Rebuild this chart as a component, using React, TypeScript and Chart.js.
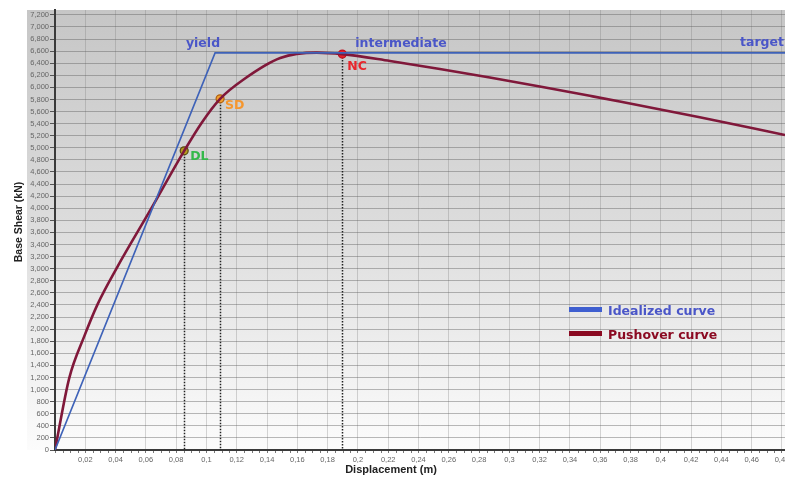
import React, { useEffect, useRef } from 'react';
import { Chart, registerables } from 'chart.js';

Chart.register(...registerables);

// ---- data ----
const idealX = [0, 0.1057, 0.482];
const idealY = [0, 6570, 6570];

const pushX = [0, 0.0094, 0.0193, 0.0281, 0.0412, 0.0632, 0.0853, 0.097, 0.109, 0.1245, 0.1487, 0.1728, 0.1897, 0.2212, 0.2541, 0.2871, 0.3201, 0.3531, 0.3729, 0.4257, 0.482];
const pushY = [0, 1190, 1880, 2410, 3030, 3980, 4950, 5420, 5810, 6130, 6485, 6575, 6550, 6436, 6304, 6163, 6014, 5860, 5766, 5505, 5212];

const limitNames = ['DL', 'SD', 'NC'];
const limitX = [0.0853, 0.109, 0.1897];
const limitY = [4950, 5810, 6550];

const xTicks = [0, 0.02, 0.04, 0.06, 0.08, 0.1, 0.12, 0.14, 0.16, 0.18, 0.2, 0.22, 0.24, 0.26, 0.28, 0.3, 0.32, 0.34, 0.36, 0.38, 0.4, 0.42, 0.44, 0.46, 0.48];
const yTicks = [0, 200, 400, 600, 800, 1000, 1200, 1400, 1600, 1800, 2000, 2200, 2400, 2600, 2800, 3000, 3200, 3400, 3600, 3800, 4000, 4200, 4400, 4600, 4800, 5000, 5200, 5400, 5600, 5800, 6000, 6200, 6400, 6600, 6800, 7000, 7200];

const curveLabels = ['yield', 'intermediate', 'target'];
const legendLabels = ['Idealized curve', 'Pushover curve'];
const xTitle = 'Displacement (m)';
const yTitle = 'Base Shear (kN)';

// ---- styles ----
const BLUE_LINE = '#3e62b8';
const BLUE_TEXT = '#4a56c8';
const RED_LINE = '#80183a';
const RED_TEXT = '#8b0a22';
const limitText = ['#34b84a', '#f5962e', '#e8262c'];
const limitFill = ['#b59a1e', '#f0a030', '#e8202a'];
const limitBorder = ['#5a4a10', '#b06010', '#c01020'];

const LABEL_FONT = 'bold 12.5px "DejaVu Sans", sans-serif';

const decor = {
  id: 'decor',
  beforeDraw(chart: any) {
    const { ctx, chartArea } = chart;
    const { top, bottom, right } = chartArea;
    ctx.save();
    ctx.fillStyle = '#ffffff';
    ctx.fillRect(0, 0, chart.width, chart.height);
    const g = ctx.createLinearGradient(0, top, 0, bottom);
    g.addColorStop(0, '#c6c6c6');
    g.addColorStop(0.5, '#dddddd');
    g.addColorStop(1, '#fcfcfc');
    ctx.fillStyle = g;
    ctx.fillRect(27, top, right - 27, bottom - top);
    ctx.restore();
  },
  beforeDatasetsDraw(chart: any) {
    const { ctx, chartArea, scales } = chart;
    const xs = scales.x;
    const ys = scales.y;
    ctx.save();
    // dotted drop lines
    ctx.strokeStyle = '#222';
    ctx.lineWidth = 1.5;
    ctx.setLineDash([1.5, 1.5]);
    for (let i = 0; i < limitX.length; i++) {
      const px = Math.round(xs.getPixelForValue(limitX[i])) + 0.5;
      ctx.beginPath();
      ctx.moveTo(px, ys.getPixelForValue(limitY[i]));
      ctx.lineTo(px, chartArea.bottom);
      ctx.stroke();
    }
    ctx.setLineDash([]);
    // minor ticks on x axis
    ctx.strokeStyle = '#777';
    ctx.lineWidth = 1;
    for (let i = 0; i < xTicks.length; i++) {
      for (let k = 1; k < 4; k++) {
        const v = xTicks[i] + (k * 0.02) / 4;
        if (v > xs.max) break;
        const px = Math.round(xs.getPixelForValue(v)) + 0.5;
        ctx.beginPath();
        ctx.moveTo(px, chartArea.bottom + 1);
        ctx.lineTo(px, chartArea.bottom + 3);
        ctx.stroke();
      }
    }
    ctx.restore();
  },
  afterDraw(chart: any) {
    const { ctx, chartArea, scales } = chart;
    const xs = scales.x;
    const ys = scales.y;
    ctx.save();
    ctx.textBaseline = 'middle';
    ctx.font = LABEL_FONT;

    // curve labels
    const yieldPx = xs.getPixelForValue(idealX[1]);
    const yieldPy = ys.getPixelForValue(idealY[1]);
    ctx.fillStyle = BLUE_TEXT;
    ctx.textAlign = 'right';
    ctx.fillText(curveLabels[0], yieldPx + 5, yieldPy - 9);
    ctx.textAlign = 'left';
    ctx.fillText(curveLabels[1], xs.getPixelForValue(limitX[2]) + 13, yieldPy - 9);
    ctx.textAlign = 'right';
    ctx.fillText(curveLabels[2], chartArea.right - 1, yieldPy - 10);

    // limit state labels
    const offs = [[6, 6], [5, 7], [5, 13]];
    ctx.textAlign = 'left';
    for (let i = 0; i < limitNames.length; i++) {
      ctx.fillStyle = limitText[i];
      ctx.fillText(limitNames[i], xs.getPixelForValue(limitX[i]) + offs[i][0], ys.getPixelForValue(limitY[i]) + offs[i][1]);
    }

    // legend
    const lineCols = ['#3f5fd0', RED_TEXT];
    const textCols = [BLUE_TEXT, RED_TEXT];
    const legY = [309.5, 333.5];
    for (let i = 0; i < legendLabels.length; i++) {
      ctx.fillStyle = lineCols[i];
      ctx.fillRect(569, legY[i] - 2.5, 33, 5);
      ctx.fillStyle = textCols[i];
      ctx.fillText(legendLabels[i], 608, legY[i] + 2);
    }

    // axis titles
    ctx.fillStyle = '#222';
    ctx.font = 'bold 11px "Liberation Sans", Arial, sans-serif';
    ctx.textAlign = 'center';
    ctx.fillText(xTitle, 391, 470);
    ctx.translate(19, 222);
    ctx.rotate(-Math.PI / 2);
    ctx.font = 'bold 10.5px "Liberation Sans", Arial, sans-serif';
    ctx.fillText(yTitle, 0, 0);
    ctx.restore();
  },
};

export default function App() {
  const ref = useRef<HTMLCanvasElement | null>(null);

  useEffect(() => {
    if (!ref.current) return;
    const chart = new Chart(ref.current, {
      type: 'scatter',
      data: {
        datasets: [
          {
            label: legendLabels[0],
            data: idealX.map((x, i) => ({ x, y: idealY[i] })),
            showLine: true,
            borderColor: BLUE_LINE,
            borderWidth: 1.6,
            pointRadius: 0,
            tension: 0,
          },
          {
            label: legendLabels[1],
            data: pushX.map((x, i) => ({ x, y: pushY[i] })),
            showLine: true,
            borderColor: RED_LINE,
            borderWidth: 2.6,
            pointRadius: 0,
            cubicInterpolationMode: 'monotone',
          },
          {
            label: 'limit states',
            data: limitX.map((x, i) => ({ x, y: limitY[i] })),
            showLine: false,
            pointRadius: 4,
            pointBorderWidth: 1.2,
            pointBackgroundColor: limitFill,
            pointBorderColor: limitBorder,
          },
        ],
      } as any,
      options: {
        responsive: false,
        animation: false,
        devicePixelRatio: 1,
        layout: { padding: { top: 10, left: 0, right: 0, bottom: 0 }, autoPadding: false } as any,
        plugins: {
          legend: { display: false },
          tooltip: { enabled: false },
        },
        scales: {
          x: {
            type: 'linear',
            min: 0,
            max: 0.482,
            afterBuildTicks: (s: any) => {
              s.ticks = xTicks.map((v) => ({ value: v }));
            },
            afterFit: (s: any) => {
              s.height = 29;
              s.paddingLeft = 0;
              s.paddingRight = 0;
            },
            ticks: {
              autoSkip: false,
              maxRotation: 0,
              padding: 2,
              color: '#666',
              font: { family: '"Liberation Sans", Arial, sans-serif', size: 7.5 },
              callback: (v: any) => (Number(v) === 0 ? '' : String(Math.round(Number(v) * 100) / 100).replace('.', ',')),
            },
            grid: {
              color: 'rgba(120,120,120,0.3)',
              lineWidth: 1,
              tickLength: 3,
              tickColor: '#777',
            },
            border: { color: '#3a3a3a', width: 2 },
          },
          y: {
            type: 'linear',
            min: 0,
            max: 7280,
            afterBuildTicks: (s: any) => {
              s.ticks = yTicks.map((v) => ({ value: v }));
            },
            afterFit: (s: any) => {
              s.width = 55;
              s.paddingTop = 0;
              s.paddingBottom = 0;
            },
            ticks: {
              autoSkip: false,
              padding: 1,
              color: '#666',
              font: { family: '"Liberation Sans", Arial, sans-serif', size: 7.5 },
              callback: (v: any) => Number(v).toLocaleString('en-US'),
            },
            grid: {
              color: 'rgba(90,90,90,0.42)',
              lineWidth: 1,
              tickLength: 5,
              tickColor: '#555',
            },
            border: { color: '#3a3a3a', width: 2 },
          },
        },
      } as any,
      plugins: [decor],
    });
    return () => chart.destroy();
  }, []);

  return (
    <div style={{ position: 'absolute', left: 0, top: 0, width: 785, height: 479, background: '#fff' }}>
      <canvas ref={ref} width={785} height={479} style={{ display: 'block' }} />
    </div>
  );
}
